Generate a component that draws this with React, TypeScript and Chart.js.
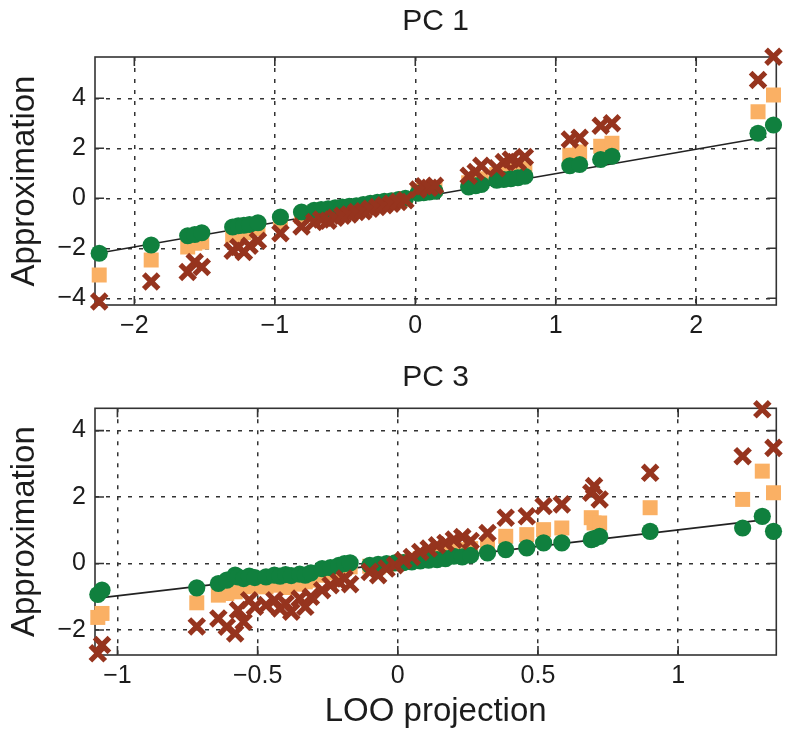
import React, { useEffect, useRef } from "react";
import { Chart, registerables } from "chart.js";

Chart.register(...registerables);

const FONT = '"Liberation Sans", Arial, Helvetica, sans-serif';
const GREEN = "#10803e";
const ORANGE = "#fab064";
const CROSS = "#96341e";
const INK = "#1c1c1c";

// ---------- PC 1 ----------
const pc1Title = "PC 1";
const pc1X = [
  -2.25, -1.88, -1.62, -1.57, -1.52, -1.3, -1.26, -1.22, -1.18, -1.12, -0.96, -0.81,
  -0.72, -0.67, -0.62, -0.57, -0.52, -0.47, -0.42, -0.37, -0.32, -0.27, -0.22, -0.17,
  -0.12, -0.07, 0.02, 0.06, 0.1, 0.14, 0.38, 0.43, 0.47, 0.58, 0.63, 0.68, 0.73, 0.78,
  1.1, 1.17, 1.32, 1.4, 2.44, 2.55,
];
const pc1Green = [
  -2.2, -1.87, -1.5, -1.45, -1.38, -1.15, -1.1, -1.08, -1.05, -0.98, -0.75, -0.55,
  -0.48, -0.45, -0.42, -0.38, -0.35, -0.32, -0.3, -0.25, -0.2, -0.16, -0.12, -0.1,
  -0.05, 0.0, 0.2, 0.22, 0.25, 0.28, 0.45, 0.5, 0.55, 0.72, 0.75, 0.78, 0.82, 0.88,
  1.3, 1.35, 1.55, 1.68, 2.6, 2.93,
];
const pc1Orange = [
  -3.07, -2.47, -1.95, -1.8, -1.75, -1.5, -1.45, -1.38, -1.3, -1.22, -0.93, -0.72,
  -0.58, -0.55, -0.5, -0.47, -0.42, -0.38, -0.36, -0.3, -0.25, -0.2, -0.16, -0.12,
  -0.08, -0.03, 0.28, 0.32, 0.35, 0.38, 0.62, 0.7, 0.78, 0.95, 1.0, 1.08, 1.15, 1.18,
  1.72, 1.85, 2.08, 2.2, 3.46, 4.13,
];
const pc1Cross = [
  -4.13, -3.33, -2.95, -2.55, -2.75, -2.1, -1.95, -2.15, -1.9, -1.7, -1.4, -1.13,
  -0.95, -0.85, -0.9, -0.78, -0.7, -0.65, -0.55, -0.52, -0.42, -0.35, -0.28, -0.22,
  -0.15, -0.08, 0.35, 0.48, 0.42, 0.5, 0.9, 1.05, 1.3, 1.2, 1.45, 1.55, 1.45, 1.65,
  2.35, 2.42, 2.9, 3.0, 4.73, 5.66,
];
const pc1LineX = [-2.28, 2.5];
const pc1LineY = [-2.22, 2.45];
const pc1XTicks = [-2, -1, 0, 1, 2];
const pc1YTicks = [-4, -2, 0, 2, 4];
const pc1XRange = [-2.28, 2.57];
const pc1YRange = [-4.27, 5.65];

// ---------- PC 3 ----------
const pc3Title = "PC 3";
const pc3X = [
  -1.07, -1.055, -0.717, -0.64, -0.61, -0.58, -0.57, -0.55, -0.53, -0.51, -0.47, -0.44,
  -0.42, -0.4, -0.38, -0.35, -0.33, -0.31, -0.27, -0.24, -0.21, -0.19, -0.17, -0.1,
  -0.07, -0.04, -0.01, 0.02, 0.05, 0.08, 0.11, 0.14, 0.17, 0.2, 0.23, 0.26, 0.32,
  0.385, 0.46, 0.52, 0.585, 0.69, 0.7, 0.72, 0.9, 1.23, 1.3, 1.34,
];
const pc3Green = [
  -0.93, -0.8, -0.73, -0.6, -0.5, -0.35, -0.4, -0.45, -0.38, -0.42, -0.4, -0.35,
  -0.38, -0.33, -0.36, -0.32, -0.35, -0.28, -0.15, -0.12, -0.05, 0.0, 0.02, -0.05,
  -0.02, 0.0, 0.02, 0.03, 0.05, 0.08, 0.1, 0.12, 0.15, 0.22, 0.2, 0.25, 0.32,
  0.42, 0.47, 0.62, 0.62, 0.72, 0.75, 0.82, 0.97, 1.07, 1.42, 0.97,
];
const pc3Orange = [
  -1.62, -1.5, -1.18, -0.95, -0.9, -0.85, -0.75, -0.7, -0.6, -0.68, -0.7, -0.65,
  -0.6, -0.72, -0.58, -0.62, -0.55, -0.5, -0.35, -0.28, -0.22, -0.15, -0.1, -0.08,
  -0.1, -0.05, 0.0, 0.05, 0.1, 0.15, 0.2, 0.25, 0.32, 0.38, 0.42, 0.45, 0.57,
  0.82, 0.87, 1.02, 1.07, 1.38, 1.22, 1.22, 1.68, 1.93, 2.78, 2.13,
];
const pc3Cross = [
  -2.7, -2.45, -1.89, -1.65, -1.9, -2.1, -1.4, -1.75, -1.1, -1.3, -1.25, -1.1,
  -1.35, -1.2, -1.45, -1.05, -1.3, -1.0, -0.8, -0.65, -0.55, -0.45, -0.62, -0.25,
  -0.35, -0.15, -0.05, 0.1, 0.2, 0.35, 0.45, 0.55, 0.62, 0.72, 0.8, 0.68, 0.92,
  1.38, 1.42, 1.73, 1.78, 2.13, 2.33, 1.93, 2.73, 3.23, 4.64, 3.48,
];
const pc3LineX = [-1.07, 1.32];
const pc3LineY = [-1.04, 1.33];
const pc3XTicks = [-1, -0.5, 0, 0.5, 1];
const pc3YTicks = [-2, 0, 2, 4];
const pc3XRange = [-1.08, 1.35];
const pc3YRange = [-2.75, 4.67];

const fmt = (v: number) => {
  const s = String(Math.abs(v));
  return v < 0 ? "\u2212" + s : s;
};

const framePlugin = {
  id: "matlabFrame",
  beforeDatasetsDraw(chart: any) {
    const { ctx, chartArea: a, scales } = chart;
    ctx.save();
    ctx.setLineDash([]);
    ctx.strokeStyle = "#333";
    ctx.lineWidth = 1.6;
    ctx.strokeRect(a.left, a.top, a.right - a.left, a.bottom - a.top);
    const tl = 9;
    ctx.beginPath();
    scales.x.ticks.forEach((t: any) => {
      const px = scales.x.getPixelForValue(t.value);
      ctx.moveTo(px, a.bottom);
      ctx.lineTo(px, a.bottom - tl);
      ctx.moveTo(px, a.top);
      ctx.lineTo(px, a.top + tl);
    });
    scales.y.ticks.forEach((t: any) => {
      const py = scales.y.getPixelForValue(t.value);
      ctx.moveTo(a.left, py);
      ctx.lineTo(a.left + tl, py);
      ctx.moveTo(a.right, py);
      ctx.lineTo(a.right - tl, py);
    });
    ctx.stroke();
    ctx.restore();
  },
};

type PanelProps = {
  title: string;
  xs: number[];
  green: number[];
  orange: number[];
  cross: number[];
  lineX: number[];
  lineY: number[];
  xTicks: number[];
  yTicks: number[];
  xRange: number[];
  yRange: number[];
  height: number;
  titlePad: { top: number; bottom: number };
  xAxisHeight: number;
  xLabel: string | null;
};

function Panel(p: PanelProps) {
  const ref = useRef<HTMLCanvasElement | null>(null);
  useEffect(() => {
    if (!ref.current) return;
    const pts = (ys: number[]) => p.xs.map((x, i) => ({ x, y: ys[i] }));
    const chart = new Chart(ref.current, {
      type: "scatter",
      data: {
        datasets: [
          {
            label: "cross",
            data: pts(p.cross),
            pointStyle: "crossRot",
            pointRadius: 10.5,
            pointBorderWidth: 5.2,
            borderColor: CROSS,
            backgroundColor: CROSS,
            order: 0,
            clip: false,
          } as any,
          {
            label: "green",
            data: pts(p.green),
            pointStyle: "circle",
            pointRadius: 8.6,
            pointBorderWidth: 0,
            borderColor: GREEN,
            backgroundColor: GREEN,
            order: 1,
            clip: false,
          },
          {
            label: "orange",
            data: pts(p.orange),
            pointStyle: "rect",
            pointRadius: 10.6,
            pointBorderWidth: 0,
            borderColor: ORANGE,
            backgroundColor: ORANGE,
            order: 2,
            clip: false,
          },
          {
            type: "line",
            label: "line",
            data: p.lineX.map((x, i) => ({ x, y: p.lineY[i] })),
            borderColor: "#222",
            borderWidth: 1.6,
            pointRadius: 0,
            showLine: true,
            fill: false,
            order: 3,
          } as any,
        ],
      },
      options: {
        responsive: false,
        animation: false,
        devicePixelRatio: 1,
        layout: { padding: { left: 0, right: 7, top: 0, bottom: 0 } },
        plugins: {
          legend: { display: false },
          tooltip: { enabled: false },
          title: {
            display: true,
            text: p.title,
            fullSize: false,
            color: INK,
            font: { family: FONT, size: 30, weight: "normal" as any },
            padding: p.titlePad,
          },
        },
        scales: {
          x: {
            type: "linear",
            min: p.xRange[0],
            max: p.xRange[1],
            afterBuildTicks: (s: any) => {
              s.ticks = p.xTicks.map((v) => ({ value: v }));
            },
            afterFit: (s: any) => {
              s.height = p.xAxisHeight;
            },
            ticks: {
              color: INK,
              font: { family: FONT, size: 25 },
              padding: 6,
              maxRotation: 0,
              autoSkip: false,
              callback: (v: any) => fmt(Number(v)),
            },
            grid: { color: "#333", lineWidth: 1.5, drawTicks: false },
            border: { display: false, dash: [4, 7] },
            title: {
              display: !!p.xLabel,
              text: p.xLabel || "",
              color: INK,
              font: { family: FONT, size: 33 },
              padding: { top: 0, bottom: 0 },
            },
          },
          y: {
            type: "linear",
            min: p.yRange[0],
            max: p.yRange[1],
            afterBuildTicks: (s: any) => {
              s.ticks = p.yTicks.map((v) => ({ value: v }));
            },
            afterFit: (s: any) => {
              s.width = 95;
            },
            ticks: {
              color: INK,
              font: { family: FONT, size: 25 },
              padding: 9,
              autoSkip: false,
              callback: (v: any) => fmt(Number(v)),
            },
            grid: { color: "#333", lineWidth: 1.5, drawTicks: false },
            border: { display: false, dash: [4, 7] },
            title: {
              display: true,
              text: "Approximation",
              color: INK,
              font: { family: FONT, size: 33 },
              padding: { top: 5, bottom: 0 },
            },
          },
        },
      },
      plugins: [framePlugin],
    });
    return () => chart.destroy();
  }, []);
  return <canvas ref={ref} width={792} height={p.height} style={{ display: "block" }} />;
}

export default function App() {
  return (
    <div style={{ position: "absolute", left: 0, top: 0, width: 792, height: 732, background: "#fff" }}>
      <Panel
        title={pc1Title}
        xs={pc1X}
        green={pc1Green}
        orange={pc1Orange}
        cross={pc1Cross}
        lineX={pc1LineX}
        lineY={pc1LineY}
        xTicks={pc1XTicks}
        yTicks={pc1YTicks}
        xRange={pc1XRange}
        yRange={pc1YRange}
        height={345}
        titlePad={{ top: 4, bottom: 17 }}
        xAxisHeight={40}
        xLabel={null}
      />
      <Panel
        title={pc3Title}
        xs={pc3X}
        green={pc3Green}
        orange={pc3Orange}
        cross={pc3Cross}
        lineX={pc3LineX}
        lineY={pc3LineY}
        xTicks={pc3XTicks}
        yTicks={pc3YTicks}
        xRange={pc3XRange}
        yRange={pc3YRange}
        height={387}
        titlePad={{ top: 14.6, bottom: 12.7 }}
        xAxisHeight={77}
        xLabel={"LOO projection"}
      />
    </div>
  );
}
